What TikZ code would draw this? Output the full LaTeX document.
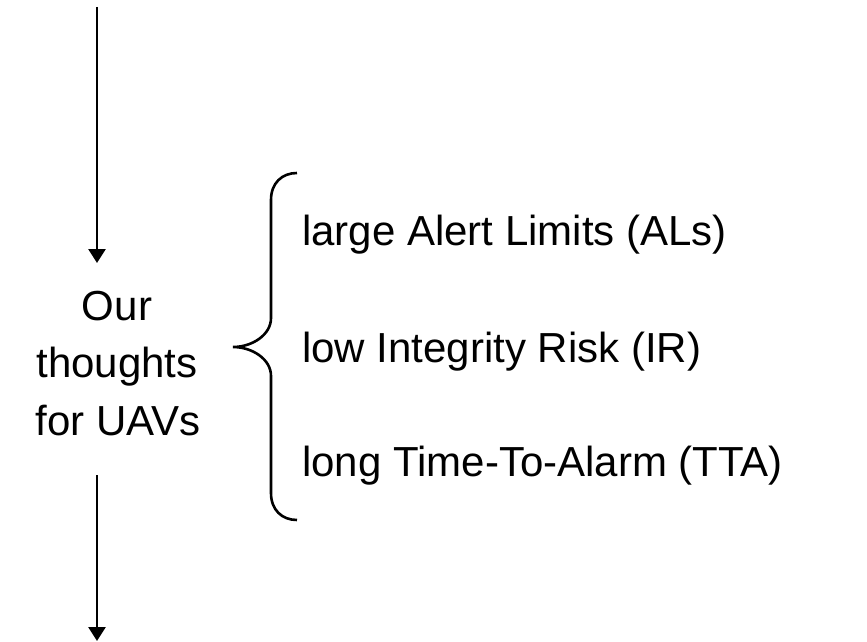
\documentclass[tikz,border=0pt]{standalone}
\usepackage{fontspec}
\setmainfont{Liberation Sans}
\usetikzlibrary{arrows.meta}
\begin{document}
\begin{tikzpicture}[x=1pt,y=-1pt,
  flow/.style={line width=2.7pt,-{Triangle[width=17pt,length=14pt]}},
  bracepath/.style={line width=2.6pt,line cap=butt},
  item/.style={anchor=base west,inner sep=0pt,font=\fontsize{42}{50}\selectfont},
  head/.style={anchor=base,inner sep=0pt,font=\fontsize{42}{50}\selectfont}]
\useasboundingbox (0,0) rectangle (867,642);

% flow arrows above and below the heading
\coordinate (inA) at (97,7);
\coordinate (inB) at (97,263);
\coordinate (outA) at (97,475);
\coordinate (outB) at (97,641);
\draw[flow] (inA) -- (inB);
\draw[flow] (outA) -- (outB);

% heading
\node[head] (our) at (117,320) {Our};
\node[head] (thoughts) at (117,377) {thoughts};
\node[head] (uavs) at (118,435) {for UAVs};

% curly brace
\draw[bracepath] (297,173) .. controls (282,173) and (271,183) .. (271,200)
  -- (271,318) .. controls (271,335) and (252,347) .. (233,347)
  .. controls (252,347) and (271,359) .. (271,376)
  -- (271,493) .. controls (271,510) and (282,520) .. (297,520);

% requirements
\node[item] (al) at (302,245) {large Alert Limits (ALs)};
\node[item] (ir) at (302,362) {low Integrity Risk (IR)};
\node[item] (tta) at (302,476) {long Time-To-Alarm (TTA)};
\end{tikzpicture}
\end{document}
